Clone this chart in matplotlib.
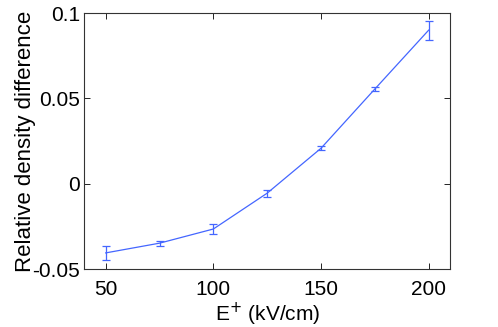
import matplotlib
matplotlib.use("Agg")
import matplotlib.pyplot as plt

E_field = [50, 75, 100, 125, 150, 175, 200]
rel_diff = [-0.0405, -0.0348, -0.0265, -0.0055, 0.0208, 0.0555, 0.0900]
rel_err = [0.0040, 0.0015, 0.0032, 0.0020, 0.0013, 0.0014, 0.0055]

plt.rcParams['font.family'] = ['Liberation Sans', 'DejaVu Sans']
fig = plt.figure(figsize=(4.98, 3.27), dpi=100)
ax = fig.add_axes([0.169, 0.177, 0.735, 0.783])
ax.errorbar(E_field, rel_diff, yerr=rel_err, color='#4466ff', lw=0.9,
            elinewidth=0.9, capsize=3, capthick=0.9)
ax.set_xlim(40, 210)
ax.set_ylim(-0.05, 0.1)
ax.set_xticks([50, 100, 150, 200])
ax.set_yticks([-0.05, 0, 0.05, 0.1])
ax.set_yticklabels(['-0.05', '0', '0.05', '0.1'])
ax.tick_params(direction='in', top=True, right=True, labelsize=15, length=4, width=0.6)
ax.tick_params(axis='x', pad=8)
ax.tick_params(axis='y', pad=3)
for s in ax.spines.values():
    s.set_linewidth(0.8)
    s.set_color('#333333')
ax.set_xlabel('E$^{+}$ (kV/cm)', fontsize=15, labelpad=1)
ax.set_ylabel('Relative density difference', fontsize=16, labelpad=-3)
fig.savefig('out.png', dpi=100)
